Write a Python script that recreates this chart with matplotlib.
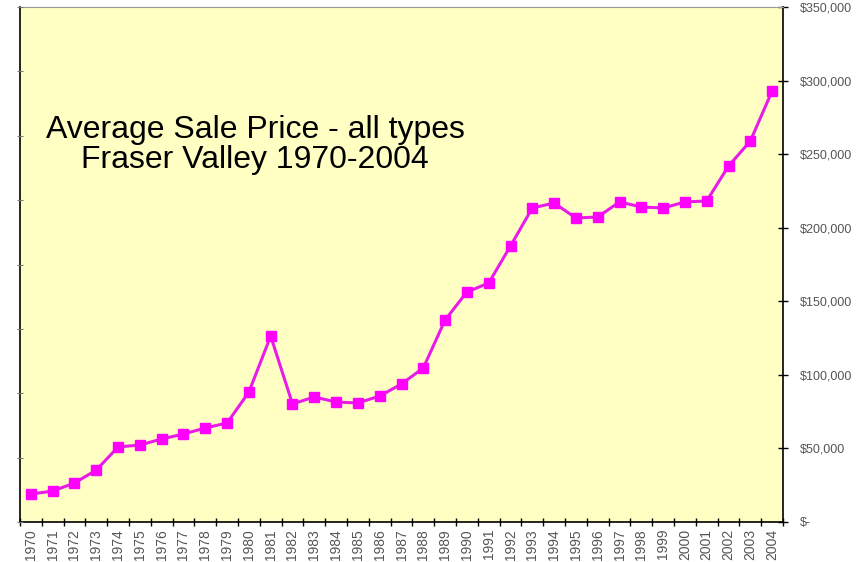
import numpy as np
import matplotlib
matplotlib.use("Agg")
import matplotlib.pyplot as plt
from matplotlib.ticker import FuncFormatter

plt.rcParams['font.family'] = ['Liberation Sans', 'DejaVu Sans']

# average sale price, all types, Fraser Valley
years = list(range(1970, 2005))
prices = [19000, 21000, 26500, 35300, 51000, 52300, 56400, 59800, 63900, 67300,
          88300, 126400, 80200, 85000, 81500, 80900, 85600, 93800, 104700, 137300,
          156300, 162400, 187600, 213400, 216800, 206600, 207300, 217500, 214100, 213400,
          217500, 218200, 241900, 258900, 292900]
price_ticks = [0, 50000, 100000, 150000, 200000, 250000, 300000, 350000]

fig = plt.figure(figsize=(8.58, 5.62), dpi=100)
ax = fig.add_axes([0.0233, 0.0712, 0.8893, 0.9163])
ax.set_facecolor('#FFFFC4')

# left axis: ticks only (made first, twinx resets the side of ax)
ax2 = ax.twinx()
ax2.set_ylim(0, 8)
ax2.yaxis.tick_left()
ax2.set_yticks(range(9))
ax2.set_yticklabels([])
ax2.tick_params(axis='y', direction='inout', length=5, color='#777777')
for s in ax2.spines.values():
    s.set_visible(False)

x = np.arange(len(years))
ax.plot(x, prices, color='#E81BE8', lw=2.2, marker='s', markersize=6.5,
        markerfacecolor='#FF00FF', markeredgecolor='#FF00FF')

ax.set_xlim(-0.5, len(years) - 0.5)
ax.set_ylim(0, 350000)

# dollar axis on the right
ax.yaxis.tick_right()
ax.set_yticks(price_ticks)
ax.yaxis.set_major_formatter(FuncFormatter(lambda v, p: '$-' if v == 0 else '${:,.0f}'.format(v)))
ax.tick_params(axis='y', direction='inout', length=7, width=1, labelsize=9,
               labelcolor='#555555', pad=9)

# years centred, ticks on the boundaries
ax.set_xticks(x)
ax.set_xticklabels([str(y) for y in years], rotation=90)
ax.set_xticks(np.arange(-0.5, len(years)), minor=True)
ax.tick_params(axis='x', which='major', length=0, labelsize=10, labelcolor='#555555', pad=5)
ax.tick_params(axis='x', which='minor', direction='inout', length=6, width=1)

for s in ['left', 'right', 'bottom']:
    ax.spines[s].set_color('black')
    ax.spines[s].set_linewidth(1.2)
ax.spines['top'].set_color('#999999')

ax.text(0.308, 0.732, 'Average Sale Price - all types\nFraser Valley 1970-2004',
        transform=ax.transAxes, ha='center', va='center', fontsize=23,
        linespacing=1.0, color='black')

fig.savefig('out.png', dpi=100)
